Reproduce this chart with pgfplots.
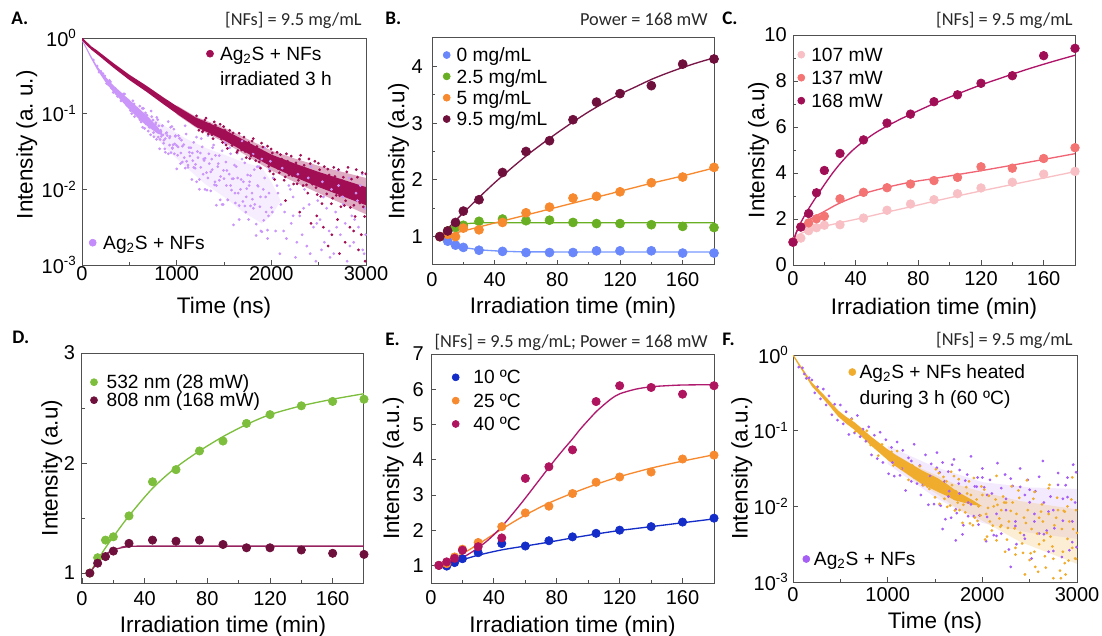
\documentclass[border=0pt]{standalone}
\usepackage{fontspec}
\setmainfont{Liberation Sans}
\newfontfamily\calfont{Carlito}
\usepackage{pgfplots}
\pgfplotsset{compat=1.18}

\definecolor{axgray}{RGB}{80,80,80}
\definecolor{maroonA}{RGB}{162,14,84}
\definecolor{lavA}{RGB}{202,150,250}
\definecolor{lavL}{RGB}{195,140,250}
\definecolor{blueB}{RGB}{105,135,250}
\definecolor{blueBl}{RGB}{120,150,255}
\definecolor{greenB}{RGB}{105,175,35}
\definecolor{orangeB}{RGB}{247,137,47}
\definecolor{maroonB}{RGB}{110,15,60}
\definecolor{maroonBl}{RGB}{120,22,72}
\definecolor{pinkC}{RGB}{248,192,196}
\definecolor{salmonC}{RGB}{244,115,115}
\definecolor{salmonCl}{RGB}{240,100,115}
\definecolor{magC}{RGB}{160,15,85}
\definecolor{magCl}{RGB}{175,20,105}
\definecolor{greenD}{RGB}{125,190,60}
\definecolor{maroonD}{RGB}{110,15,60}
\definecolor{maroonDl}{RGB}{150,35,95}
\definecolor{blueE}{RGB}{20,45,200}
\definecolor{magE}{RGB}{175,20,95}
\definecolor{magEl}{RGB}{175,25,110}
\definecolor{goldF}{RGB}{240,172,45}
\definecolor{purpF}{RGB}{165,95,245}
\definecolor{anncol}{RGB}{40,40,40}

\newcommand\tickfont{\fontsize{12}{14}\selectfont}
\newcommand\labfont{\fontsize{13.5}{16}\selectfont}
\newcommand\legfont{\fontsize{11.5}{13}\selectfont}
\newcommand\annfont{\calfont\fontsize{11}{13}\selectfont}
\newcommand\panfont{\calfont\bfseries\fontsize{11.5}{13}\selectfont}

\pgfplotsset{
  panel/.style={
    scale only axis,
    axis line style={draw=axgray, line width=0.6pt},
    tick style={draw=axgray, line width=0.5pt},
    tick align=inside, tick pos=left,
    major tick length=3pt, minor tick length=1.8pt,
    ticklabel style={font=\tickfont, text=black},
    label style={font=\labfont, text=black},
    legend cell align=left,
    legend style={draw=none, fill=none, inner sep=0pt, outer sep=0pt, font=\legfont,
      nodes={inner sep=0pt, text height=8.5pt, text depth=2.5pt, anchor=base west}},
    legend image code/.code={\draw[##1] plot coordinates {(0pt,4pt)};},
    legend image post style={mark size=2.1pt},
  },
  fitline/.style={forget plot, smooth, line width=0.8pt},
  dots/.style={only marks, mark=*, mark size=#1, mark options={draw=none}},
  tiny/.style={forget plot, only marks, mark=*, mark size=0.62pt, mark options={draw=none}},
  cloud/.style={forget plot, draw=none, fill=#1},
}

\begin{document}
\begin{tikzpicture}
\useasboundingbox (0,0) rectangle (661.2pt,381pt);

%%%%%%%%%%%%%%%%%%%% Panel A  (y values are log10 of the intensity)
\begin{axis}[panel, at={(49.2pt,222pt)}, anchor=south west, width=170.4pt, height=136.2pt,
  xmin=0, xmax=3000, ymin=-3, ymax=0,
  xtick={0,1000,2000,3000}, xticklabels={0,1000,2000,3000}, minor x tick num=1,
  ytick={-3,-2,-1,0}, yticklabels={10\textsuperscript{-3},10\textsuperscript{-2},10\textsuperscript{-1},10\textsuperscript{0}},
  xticklabel style={inner sep=1pt}, yticklabel style={inner xsep=3pt},
  xlabel={Time (ns)}, ylabel={Intensity (a.\ u.)},
  xlabel style={at={(axis description cs:0.5,-0.19)}, anchor=center},
  ylabel style={at={(axis description cs:-0.194,0.53)}, anchor=center},
  legend style={at={(0.4384,0.9639)}, anchor=north west, row sep=4pt,
    /tikz/every odd column/.append style={column sep=3.9pt}},
]
% lavender (Ag2S + NFs)
\addplot[cloud=lavA, fill opacity=0.16] coordinates {
(500,-0.818)(700,-1.014)(900,-1.183)(1100,-1.33)(1300,-1.45)(1500,-1.54)(1700,-1.64)(1900,-1.71)(2000,-1.9)(2100,-2.15)
(2000,-2.35)(1900,-2.45)(1700,-2.30)(1500,-2.10)(1300,-1.93)(1100,-1.71)(900,-1.477)(700,-1.206)(500,-0.942)};
\addplot[cloud=lavA] coordinates {
(0,-0.018)(40,-0.105)(85,-0.212)(155,-0.363)(243,-0.505)(331,-0.625)(420,-0.725)(507,-0.825)(600,-0.93)(700,-1.045)(800,-1.175)(860,-1.29)
(800,-1.265)(700,-1.175)(600,-1.07)(507,-0.955)(420,-0.835)(331,-0.715)(243,-0.575)(155,-0.407)(85,-0.248)(40,-0.135)(0,-0.042)};
\addplot[tiny, color=lavA] coordinates {
(120,-0.29)(160,-0.37)(180,-0.45)(200,-0.44)(220,-0.47)(240,-0.5)(260,-0.6)(280,-0.62)(300,-0.58)(330,-0.72)(310,-0.66)(290,-0.56)
(350,-0.665)(375,-0.77)(400,-0.74)(425,-0.80)(450,-0.74)(475,-0.89)(500,-0.88)(525,-1.00)(550,-0.87)(575,-0.99)(600,-0.96)(625,-1.11)(650,-0.93)(675,-1.13)(700,-1.07)(725,-1.28)(750,-1.085)(775,-1.21)(800,-1.08)(825,-1.34)(850,-1.16)(875,-1.465)(900,-1.29)(925,-1.415)(950,-1.17)(975,-1.53)(1000,-1.42)
(362,-0.735)(387,-0.72)(412,-0.83)(437,-0.74)(462,-0.83)(487,-0.82)(512,-0.96)(537,-0.83)(562,-0.99)(587,-0.97)(612,-1.08)(637,-0.93)(662,-1.195)(687,-1.07)(712,-1.18)(737,-1.04)(762,-1.18)(787,-1.34)(812,-1.16)(837,-1.30)(862,-1.39)(887,-1.26)(912,-1.53)(937,-1.18)(962,-1.41)(987,-1.29)
(530,-0.92)(580,-0.93)(630,-1.02)(680,-1.02)(730,-1.15)(780,-1.12)(830,-1.22)(880,-1.33)(930,-1.30)(980,-1.40)(555,-1.04)(655,-1.08)(755,-1.25)(855,-1.28)(955,-1.45)
(1020,-1.29)(1040,-1.66)(1060,-1.43)(1080,-1.58)(1100,-1.27)(1120,-1.71)(1140,-1.56)(1160,-1.87)(1180,-1.38)(1200,-1.67)(1220,-1.50)(1240,-1.87)(1260,-1.33)(1280,-1.80)(1300,-1.59)(1320,-2.01)(1340,-1.53)(1360,-1.77)(1380,-1.45)(1400,-1.94)(1420,-1.95)(1440,-1.66)(1460,-2.14)(1480,-1.49)(1500,-1.86)(1520,-1.64)(1540,-2.14)(1560,-1.45)(1580,-2.01)(1600,-1.86)(1620,-2.18)(1640,-1.52)(1660,-2.40)(1680,-1.87)(1700,-2.16)(1720,-1.65)(1740,-1.99)(1760,-2.40)(1780,-1.82)(1800,-2.13)(1820,-1.74)(1840,-2.46)(1860,-1.96)(1880,-2.23)(1900,-1.60)(1920,-2.41)(1940,-2.10)(1960,-2.65)(1980,-1.74)(2000,-2.24)
(1010,-1.55)(1050,-1.35)(1090,-1.72)(1130,-1.45)(1170,-1.62)(1210,-1.90)(1250,-1.52)(1290,-1.62)(1330,-1.85)(1370,-1.60)(1410,-1.55)(1450,-1.88)(1490,-2.2)(1530,-1.75)(1570,-1.95)(1610,-1.68)(1650,-2.05)(1690,-1.60)(1730,-2.3)(1770,-1.9)(1810,-2.25)(1850,-1.70)(1890,-2.55)(1930,-1.85)(1970,-2.35)
(610,-0.90)(640,-1.18)(670,-0.99)(700,-1.23)(730,-0.965)(760,-1.305)(790,-1.05)(820,-1.465)(850,-1.16)(880,-1.51)(910,-1.105)(940,-1.515)(970,-1.205)(1000,-1.73)(1030,-1.325)(1060,-1.64)(1090,-1.16)(1120,-1.68)(1150,-1.45)(1180,-1.71)(1210,-1.31)(1240,-2.0)(1270,-1.44)(1300,-2.0)(1330,-1.29)(1360,-2.02)(1390,-1.415)(1420,-2.21)(1450,-1.555)(1480,-2.2)(1510,-1.385)(1540,-2.14)(1570,-1.53)(1600,-2.47)(1630,-1.70)(1660,-2.215)(1690,-1.36)(1720,-2.22)(1750,-1.81)(1780,-2.22)(1810,-1.53)(1840,-2.61)(1870,-1.70)(1900,-2.56)(1930,-1.45)(1960,-2.54)(1990,-1.63)
(625,-1.01)(655,-1.07)(685,-1.02)(715,-1.15)(745,-1.17)(775,-1.14)(805,-1.31)(835,-1.24)(865,-1.35)(895,-1.25)(925,-1.32)(955,-1.46)(985,-1.30)(1015,-1.44)(1045,-1.52)(1075,-1.41)(1105,-1.63)(1135,-1.51)(1165,-1.52)(1195,-1.72)(1225,-1.58)(1255,-1.71)(1285,-1.60)(1315,-1.78)(1345,-1.66)(1375,-1.74)(1405,-1.90)(1435,-1.70)(1465,-1.83)(1495,-1.75)(1525,-1.95)(1555,-1.80)(1585,-1.86)(1615,-2.05)(1645,-1.85)(1675,-2.0)(1705,-1.90)(1735,-2.10)(1765,-1.95)(1795,-2.05)(1825,-2.2)(1855,-1.95)(1885,-2.1)(1915,-2.0)(1945,-2.3)(1975,-2.05)
(2020,-1.85)(2045,-2.55)(2070,-2.05)(2090,-2.85)(2115,-1.72)(2140,-2.3)(2160,-2.65)(2185,-1.95)(2210,-2.45)(2230,-2.1)(2255,-2.9)(2280,-1.8)(2300,-2.35)(2325,-2.6)(2350,-2.0)(2375,-2.75)(2400,-2.2)(2420,-1.7)(2445,-2.5)(2470,-2.95)(2490,-2.15)(2515,-2.4)(2540,-1.9)(2560,-2.7)(2585,-2.25)(2610,-2.55)(2635,-2.0)(2660,-2.85)(2680,-2.3)(2705,-1.75)(2730,-2.6)(2755,-2.1)(2780,-2.45)(2800,-2.95)(2825,-1.85)(2850,-2.35)(2870,-2.7)(2895,-2.05)(2920,-2.5)(2940,-1.95)(2965,-2.8)(2985,-2.25)(2995,-2.6)
(2010,-2.3)(2060,-1.95)(2130,-2.55)(2200,-2.0)(2270,-2.7)(2340,-2.25)(2410,-2.85)(2480,-2.45)(2550,-2.1)(2620,-2.9)(2690,-2.5)(2760,-2.2)(2830,-2.75)(2910,-2.15)(2980,-2.85)(2100,-2.2)(2230,-2.35)(2390,-1.85)(2530,-2.8)(2710,-1.95)(2880,-2.4)(2960,-1.8)};
% maroon (irradiated 3 h)
\addplot[cloud=maroonA, fill opacity=0.35] coordinates {
(1000,-0.89)(1200,-1.038)(1500,-1.184)(1750,-1.336)(2000,-1.488)(2250,-1.594)(2500,-1.69)(2750,-1.77)(3000,-1.85)
(3000,-2.33)(2750,-2.19)(2500,-2.05)(2250,-1.906)(2000,-1.752)(1750,-1.564)(1500,-1.376)(1200,-1.182)(1000,-1.01)};
\addplot[cloud=maroonA] coordinates {
(0,0.01)(50,-0.053)(100,-0.113)(150,-0.155)(330,-0.33)(500,-0.485)(680,-0.63)(860,-0.785)(1000,-0.90)(1200,-1.05)(1500,-1.21)(1750,-1.375)(2000,-1.54)(2250,-1.66)(2500,-1.77)(2750,-1.87)(3000,-1.97)
(3000,-2.21)(2750,-2.09)(2500,-1.97)(2250,-1.84)(2000,-1.70)(1750,-1.525)(1500,-1.35)(1200,-1.17)(1000,-1.0)(860,-0.875)(680,-0.71)(500,-0.555)(330,-0.39)(150,-0.205)(100,-0.157)(50,-0.097)(0,-0.03)};
\addplot[tiny, color=maroonA] coordinates {
(1210,-1.03)(1235,-1.22)(1260,-1.10)(1285,-1.22)(1310,-1.06)(1335,-1.27)(1360,-1.17)(1385,-1.33)(1410,-1.15)(1435,-1.29)(1460,-1.14)(1485,-1.38)(1510,-1.22)(1535,-1.46)(1560,-1.22)(1585,-1.42)(1610,-1.31)(1635,-1.51)(1660,-1.26)(1685,-1.48)(1710,-1.31)(1735,-1.58)(1760,-1.38)(1785,-1.56)(1810,-1.33)(1835,-1.62)(1860,-1.48)(1885,-1.72)(1910,-1.44)(1935,-1.63)(1960,-1.43)(1985,-1.76)
(2010,-1.52)(2035,-1.87)(2060,-1.51)(2085,-1.78)(2110,-1.60)(2135,-1.88)(2160,-1.53)(2185,-1.81)(2210,-1.56)(2235,-1.93)(2260,-1.65)(2285,-1.88)(2310,-1.55)(2335,-1.95)(2360,-1.74)(2385,-2.05)(2410,-1.66)(2435,-1.93)(2460,-1.63)(2485,-2.07)(2510,-1.74)(2535,-2.19)(2560,-1.70)(2585,-2.06)(2610,-1.81)(2635,-2.19)(2660,-1.71)(2685,-2.08)(2710,-1.74)(2735,-2.23)(2760,-1.84)(2785,-2.15)(2810,-1.71)(2835,-2.24)(2860,-1.96)(2885,-2.36)(2910,-1.84)(2935,-2.18)(2960,-1.78)(2985,-2.36)
(2150,-2.15)(2300,-2.3)(2420,-2.45)(2550,-2.5)(2640,-2.6)(2700,-2.4)(2780,-2.7)(2870,-2.55)(2920,-2.8)(2990,-2.95)(2600,-2.75)(2480,-2.35)(2830,-2.5)(2950,-2.6)(2720,-2.85)
(1222,-1.166)(1247,-1.11)(1272,-1.24)(1297,-1.085)(1322,-1.19)(1347,-1.14)(1372,-1.28)(1397,-1.11)(1422,-1.27)(1447,-1.24)(1472,-1.335)(1497,-1.17)(1522,-1.415)(1547,-1.285)(1572,-1.38)(1597,-1.255)(1622,-1.365)(1647,-1.487)(1672,-1.346)(1697,-1.443)(1722,-1.50)(1747,-1.407)(1772,-1.595)(1797,-1.362)(1822,-1.51)(1847,-1.434)(1872,-1.637)(1897,-1.389)(1922,-1.612)(1947,-1.564)(1972,-1.697)(1997,-1.467)
(2022,-1.797)(2047,-1.611)(2072,-1.725)(2097,-1.541)(2122,-1.68)(2147,-1.836)(2172,-1.63)(2197,-1.753)(2222,-1.82)(2247,-1.682)(2272,-1.927)(2297,-1.60)(2322,-1.795)(2347,-1.682)(2372,-1.941)(2397,-1.598)(2422,-1.884)(2447,-1.808)(2472,-1.977)(2497,-1.654)(2522,-2.092)(2547,-1.829)(2572,-1.979)(2597,-1.733)(2622,-1.91)(2647,-2.117)(2672,-1.83)(2697,-1.996)(2722,-2.084)(2747,-1.886)(2772,-2.214)(2797,-1.769)(2822,-2.022)(2847,-1.866)(2872,-2.211)(2897,-1.74)(2922,-2.121)(2947,-2.016)(2972,-2.232)(2997,-1.795)};
\addlegendimage{only marks, mark=*, mark size=2.1pt, mark options={draw=none}, color=maroonA}
\addlegendentry{Ag\textsubscript{2}S + NFs}
\addlegendimage{empty legend}
\addlegendentry{irradiated 3 h}
\end{axis}
\begin{axis}[panel, hide axis, at={(49.2pt,222pt)}, anchor=south west, width=170.4pt, height=136.2pt,
  xmin=0, xmax=1, ymin=0, ymax=1,
  legend style={at={(0.0254,0.1313)}, anchor=north west,
    /tikz/every odd column/.append style={column sep=4.2pt}}]
\addlegendimage{only marks, mark=*, mark size=2.1pt, mark options={draw=none}, color=lavL}
\addlegendentry{Ag\textsubscript{2}S + NFs}
\end{axis}

%%%%%%%%%%%%%%%%%%%% Panel B
\begin{axis}[panel, at={(259.2pt,222pt)}, anchor=south west, width=169.2pt, height=136.2pt,
  xmin=0, xmax=180, ymin=0.5, ymax=4.5,
  xtick={0,40,80,120,160}, xticklabels={0,40,80,120,160}, minor x tick num=1,
  ytick={1,2,3,4}, yticklabels={1,2,3,4}, minor y tick num=1,
  xticklabel style={inner sep=4.6pt}, yticklabel style={inner xsep=5.4pt},
  xlabel={Irradiation time (min)}, ylabel={Intensity (a.u)},
  xlabel style={at={(axis description cs:0.5,-0.19)}, anchor=center},
  ylabel style={at={(axis description cs:-0.119,0.5)}, anchor=center},
  legend style={at={(0.0397,0.958)}, anchor=north west, row sep=1.8pt,
    /tikz/every odd column/.append style={column sep=3.9pt}},
]
\addplot[fitline, color=blueBl] coordinates {(5,1.0)(10,0.91)(15,0.85)(20,0.81)(30,0.77)(40,0.75)(50,0.738)(60,0.732)(90,0.73)(120,0.73)(180,0.73)};
\addplot[fitline, color=greenB] coordinates {(5,1.0)(10,1.12)(15,1.19)(20,1.22)(25,1.235)(30,1.24)(40,1.245)(180,1.245)};
\addplot[fitline, color=orangeB] coordinates {(5,1.0)(20,1.1)(40,1.24)(60,1.38)(80,1.52)(100,1.66)(120,1.8)(140,1.94)(160,2.07)(180,2.21)};
\addplot[fitline, color=maroonBl] coordinates {(5,1.0)(10,1.14)(15,1.28)(20,1.42)(30,1.69)(40,1.95)(50,2.19)(60,2.42)(70,2.63)(80,2.83)(90,3.02)(100,3.2)(110,3.36)(120,3.51)(130,3.64)(140,3.77)(150,3.88)(160,3.98)(170,4.07)(180,4.15)};
\addplot[dots=2.7pt, color=blueB] coordinates {(5,1.0)(10,0.92)(15,0.85)(20,0.81)(30,0.76)(45,0.74)(60,0.72)(75,0.72)(90,0.72)(105,0.75)(120,0.75)(140,0.75)(160,0.71)(180,0.71)};
\addlegendentry{0 mg/mL}
\addplot[dots=2.7pt, color=greenB] coordinates {(5,1.0)(10,1.1)(15,1.16)(20,1.2)(30,1.27)(45,1.31)(60,1.28)(75,1.29)(90,1.25)(105,1.23)(120,1.23)(140,1.21)(160,1.18)(180,1.16)};
\addlegendentry{2.5 mg/mL}
\addplot[dots=2.7pt, color=orangeB] coordinates {(5,1.0)(10,1.04)(15,1.0)(20,1.15)(30,1.12)(45,1.25)(60,1.42)(75,1.52)(90,1.68)(105,1.71)(120,1.79)(140,1.95)(160,2.05)(180,2.22)};
\addlegendentry{5 mg/mL}
\addplot[dots=2.7pt, color=maroonB] coordinates {(5,1.0)(10,1.1)(15,1.25)(20,1.45)(30,1.65)(45,2.13)(60,2.5)(75,2.69)(90,3.06)(105,3.37)(120,3.52)(140,3.66)(160,4.04)(180,4.13)};
\addlegendentry{9.5 mg/mL}
\end{axis}

%%%%%%%%%%%%%%%%%%%% Panel C
\begin{axis}[panel, at={(475.8pt,222pt)}, anchor=south west, width=169.2pt, height=138pt,
  xmin=0, xmax=180, ymin=0, ymax=10,
  xtick={0,40,80,120,160}, xticklabels={0,40,80,120,160}, minor x tick num=1,
  ytick={0,2,4,6,8,10}, yticklabels={0,2,4,6,8,10}, minor y tick num=1,
  xticklabel style={inner sep=3.6pt}, yticklabel style={inner xsep=3.6pt},
  xlabel={Irradiation time (min)}, ylabel={Intensity (a.u)},
  xlabel style={at={(axis description cs:0.5,-0.188)}, anchor=center},
  ylabel style={at={(axis description cs:-0.122,0.5)}, anchor=center},
  legend style={at={(0.017,0.947)}, anchor=north west, row sep=2.8pt,
    /tikz/every odd column/.append style={column sep=3.9pt}},
]
\addplot[fitline, color=pinkC] coordinates {(0,1.1)(3,1.3)(5,1.37)(10,1.5)(20,1.68)(30,1.84)(45,2.06)(60,2.3)(75,2.53)(90,2.77)(105,3.0)(120,3.22)(140,3.5)(160,3.78)(180,4.06)};
\addplot[fitline, color=salmonCl] coordinates {(0,1.0)(2,1.4)(5,1.68)(10,1.95)(15,2.15)(20,2.33)(30,2.7)(45,3.1)(60,3.38)(75,3.6)(90,3.76)(105,3.93)(120,4.1)(140,4.34)(160,4.59)(180,4.84)};
\addplot[fitline, color=magCl] coordinates {(0,0.95)(2,1.4)(5,1.85)(10,2.45)(15,2.98)(20,3.49)(25,3.97)(30,4.4)(37,4.92)(45,5.38)(52,5.72)(60,6.04)(70,6.39)(80,6.71)(90,7.02)(100,7.3)(110,7.57)(120,7.83)(135,8.18)(150,8.52)(165,8.83)(180,9.12)};
\addplot[dots=2.6pt, color=pinkC] coordinates {(0,1.0)(5,1.17)(10,1.49)(15,1.62)(20,1.73)(30,1.75)(45,2.04)(60,2.38)(75,2.65)(90,2.84)(105,3.1)(120,3.35)(140,3.6)(160,3.95)(180,4.07)};
\addlegendentry{107 mW}
\addplot[dots=2.6pt, color=salmonC] coordinates {(0,1.0)(5,1.66)(10,1.83)(15,2.01)(20,2.12)(30,2.88)(45,3.16)(60,3.36)(75,3.52)(90,3.67)(105,3.81)(120,4.27)(140,4.21)(160,4.63)(180,5.1)};
\addlegendentry{137 mW}
\addplot[dots=2.6pt, color=magC] coordinates {(0,0.99)(5,1.65)(10,2.24)(15,3.14)(20,4.11)(30,4.85)(45,5.44)(60,6.17)(75,6.56)(90,7.1)(105,7.4)(120,7.9)(140,8.23)(160,9.1)(180,9.42)};
\addlegendentry{168 mW}
\end{axis}

%%%%%%%%%%%%%%%%%%%% Panel D
\begin{axis}[panel, at={(49.2pt,31.2pt)}, anchor=south west, width=169.2pt, height=138pt,
  xmin=0, xmax=180, ymin=0.91, ymax=3,
  xtick={0,40,80,120,160}, xticklabels={0,40,80,120,160}, minor x tick num=1,
  ytick={1,2,3}, yticklabels={1,2,3}, minor y tick num=1,
  xticklabel style={inner sep=4.8pt}, yticklabel style={inner xsep=4pt},
  xlabel={Irradiation time (min)}, ylabel={Intensity (a.u)},
  xlabel style={at={(axis description cs:0.5,-0.188)}, anchor=center},
  ylabel style={at={(axis description cs:-0.107,0.5)}, anchor=center},
  legend style={at={(0.0301,0.905)}, anchor=north west, row sep=0pt,
    nodes={text height=8.4pt, text depth=2.4pt},
    /tikz/every odd column/.append style={column sep=5.5pt}},
]
\addplot[fitline, color=greenD] coordinates {(5,1.0)(10,1.12)(15,1.23)(20,1.33)(30,1.52)(45,1.77)(60,1.96)(75,2.11)(90,2.24)(105,2.35)(120,2.44)(140,2.52)(160,2.58)(180,2.63)};
\addplot[fitline, color=maroonDl] coordinates {(5,1.0)(10,1.1)(15,1.17)(20,1.21)(25,1.23)(30,1.24)(40,1.245)(180,1.245)};
\addplot[dots=2.5pt, color=greenD] coordinates {(5,1.0)(10,1.14)(15,1.3)(20,1.33)(30,1.52)(45,1.83)(60,1.94)(75,2.11)(90,2.2)(105,2.36)(120,2.44)(140,2.52)(160,2.56)(180,2.58)};
\addlegendentry{532 nm (28 mW)}
\addplot[dots=2.5pt, color=maroonD] coordinates {(5,1.0)(10,1.09)(15,1.15)(20,1.2)(30,1.27)(45,1.3)(60,1.29)(75,1.3)(90,1.26)(105,1.23)(120,1.23)(140,1.21)(160,1.18)(180,1.17)};
\addlegendentry{808 nm (168 mW)}
\end{axis}

%%%%%%%%%%%%%%%%%%%% Panel E
\begin{axis}[panel, at={(258.6pt,31.2pt)}, anchor=south west, width=169.8pt, height=137.4pt,
  xmin=0, xmax=180, ymin=0.5, ymax=7,
  xtick={0,40,80,120,160}, xticklabels={0,40,80,120,160}, minor x tick num=1,
  ytick={1,2,3,4,5,6,7}, yticklabels={1,2,3,4,5,6,7},
  xticklabel style={inner sep=4.2pt}, yticklabel style={inner xsep=4.2pt},
  xlabel={Irradiation time (min)}, ylabel={Intensity (a.u.)},
  xlabel style={at={(axis description cs:0.5,-0.189)}, anchor=center},
  ylabel style={at={(axis description cs:-0.133,0.5)}, anchor=center},
  legend style={at={(0.0749,0.931)}, anchor=north west, row sep=3pt,
    /tikz/every odd column/.append style={column sep=8.5pt}},
]
\addplot[fitline, color=blueE] coordinates {(5,1.0)(10,1.05)(20,1.16)(30,1.29)(45,1.44)(60,1.55)(75,1.66)(90,1.78)(105,1.89)(120,1.99)(140,2.1)(160,2.21)(180,2.32)};
\addplot[fitline, color=orangeB] coordinates {(5,1.0)(10,1.1)(20,1.33)(30,1.6)(45,2.03)(60,2.43)(75,2.77)(90,3.05)(105,3.3)(120,3.52)(140,3.76)(160,3.96)(180,4.14)};
\addplot[fitline, color=magEl] coordinates {(5,1.0)(10,1.05)(15,1.12)(20,1.22)(25,1.35)(30,1.5)(35,1.67)(40,1.87)(45,2.1)(50,2.36)(55,2.63)(60,2.91)(65,3.2)(70,3.49)(75,3.78)(80,4.06)(85,4.33)(90,4.59)(95,4.87)(100,5.12)(105,5.36)(110,5.56)(115,5.74)(120,5.87)(130,6.0)(140,6.07)(150,6.1)(160,6.12)(180,6.13)};
\addplot[dots=2.5pt, color=blueE] coordinates {(5,1.0)(10,0.98)(15,1.08)(20,1.19)(30,1.36)(45,1.62)(60,1.55)(75,1.7)(90,1.81)(105,1.91)(120,2.0)(140,2.1)(160,2.23)(180,2.34)};
\addlegendentry{10 ºC}
\addplot[dots=2.5pt, color=orangeB] coordinates {(5,1.0)(10,1.05)(15,1.24)(20,1.46)(30,1.65)(45,2.1)(60,2.49)(75,2.68)(90,3.04)(105,3.36)(120,3.51)(140,3.65)(160,4.02)(180,4.13)};
\addlegendentry{25 ºC}
\addplot[dots=2.5pt, color=magE] coordinates {(5,1.0)(10,1.1)(15,1.2)(20,1.43)(30,1.53)(45,1.78)(60,3.47)(75,3.8)(90,4.28)(105,5.65)(120,6.1)(140,6.05)(160,5.86)(180,6.1)};
\addlegendentry{40 ºC}
\end{axis}

%%%%%%%%%%%%%%%%%%%% Panel F  (y values are log10 of the intensity)
\begin{axis}[panel, at={(475.8pt,31.8pt)}, anchor=south west, width=170.4pt, height=136.2pt,
  xmin=0, xmax=3000, ymin=-3, ymax=0,
  xtick={0,1000,2000,3000}, xticklabels={0,1000,2000,3000}, minor x tick num=1,
  ytick={-3,-2,-1,0}, yticklabels={10\textsuperscript{-3},10\textsuperscript{-2},10\textsuperscript{-1},10\textsuperscript{0}},
  xticklabel style={inner sep=3pt}, yticklabel style={inner xsep=2.4pt},
  xlabel={Time (ns)}, ylabel={Intensity (a.u.)},
  xlabel style={at={(axis description cs:0.5,-0.18)}, anchor=center},
  ylabel style={at={(axis description cs:-0.18,0.5)}, anchor=center},
  legend style={at={(0.1965,0.958)}, anchor=north west, row sep=4.6pt,
    /tikz/every odd column/.append style={column sep=2.3pt}},
]
\addplot[cloud=purpF, fill opacity=0.13] coordinates {
(1000,-1.20)(1500,-1.48)(2000,-1.68)(2500,-1.75)(3000,-1.77)
(3000,-2.43)(2500,-2.35)(2000,-2.22)(1500,-1.88)(1000,-1.44)};
\addplot[tiny, color=purpF] coordinates {
(60,-0.16)(100,-0.17)(140,-0.31)(170,-0.30)(120,-0.25)
(200,-0.33)(230,-0.50)(260,-0.42)(290,-0.58)(320,-0.45)(350,-0.66)(380,-0.54)(410,-0.79)(440,-0.65)(470,-0.86)(500,-0.66)(530,-0.91)(560,-0.75)(590,-1.05)(620,-0.84)(650,-1.03)(680,-0.80)(710,-1.08)(740,-0.98)(770,-1.14)(800,-0.95)(830,-1.32)(860,-1.06)(890,-1.37)(920,-1.02)(950,-1.42)(980,-1.12)(1010,-1.57)(1040,-1.22)(1070,-1.60)(1100,-1.15)(1130,-1.59)(1160,-1.26)(1190,-1.79)(1220,-1.36)(1250,-1.67)(1280,-1.18)(1310,-1.70)(1340,-1.46)(1370,-1.72)(1400,-1.32)(1430,-1.98)(1460,-1.44)(1490,-1.97)(1520,-1.29)(1550,-1.98)(1580,-1.42)(1610,-2.17)(1640,-1.54)(1670,-2.15)(1700,-1.38)(1730,-2.09)(1760,-1.52)(1790,-2.37)(1820,-1.66)(1850,-2.13)(1880,-1.34)(1910,-2.13)(1940,-1.74)(1970,-2.12)
(2000,-1.50)(2040,-2.46)(2080,-1.65)(2120,-2.38)(2160,-1.43)(2200,-2.36)(2240,-1.58)(2280,-2.57)(2320,-1.73)(2360,-2.50)(2400,-1.50)(2440,-2.38)(2480,-1.65)(2520,-2.69)(2560,-1.80)(2600,-2.36)(2640,-1.40)(2680,-2.32)(2720,-1.87)(2760,-2.29)(2800,-1.56)(2840,-2.67)(2880,-1.72)(2920,-2.58)(2960,-1.45)(2995,-2.54)
(1050,-1.42)(1150,-1.50)(1250,-1.40)(1350,-1.85)(1450,-1.60)(1550,-1.55)(1650,-1.80)(1750,-1.70)(1850,-1.95)(1950,-1.62)(2050,-1.85)(2150,-2.1)(2250,-1.9)(2350,-2.2)(2450,-1.85)(2550,-2.1)(2650,-1.95)(2750,-2.05)(2850,-1.9)(2950,-2.2)(2020,-1.75)(2500,-1.78)(2900,-1.62)(2700,-2.6)(2300,-2.8)(1720,-2.45)(1580,-2.3)(2980,-1.95)
(1520,-1.49)(1560,-1.99)(1600,-1.67)(1640,-1.87)(1680,-1.45)(1720,-2.04)(1760,-1.83)(1800,-2.25)(1840,-1.58)(1880,-1.975)(1920,-1.736)(1960,-2.241)(2000,-1.62)(2050,-2.14)(2100,-1.83)(2150,-2.39)(2200,-1.76)(2250,-2.05)(2300,-1.634)(2350,-2.26)(2400,-1.742)(2450,-2.428)(2500,-1.947)(2550,-2.20)(2600,-1.61)(2650,-2.368)(2700,-2.07)(2750,-2.59)(2800,-1.716)(2850,-2.19)(2900,-1.878)(2950,-2.473)(2990,-1.55)};
\addplot[cloud=goldF, fill opacity=0.2] coordinates {
(1000,-1.25)(1300,-1.47)(1500,-1.58)(1700,-1.70)(2000,-1.81)(2400,-1.93)(3000,-2.04)
(3000,-2.76)(2400,-2.47)(2000,-2.19)(1700,-2.0)(1500,-1.82)(1300,-1.67)(1000,-1.39)};
\addplot[cloud=goldF] coordinates {
(0,0.015)(60,-0.102)(123,-0.22)(200,-0.365)(299,-0.49)(400,-0.625)(475,-0.73)(560,-0.815)(651,-0.89)(740,-0.985)(827,-1.08)(915,-1.165)(1003,-1.25)(1090,-1.325)(1179,-1.39)(1267,-1.455)(1355,-1.52)(1443,-1.575)(1531,-1.63)(1620,-1.70)(1707,-1.78)(1800,-1.85)(1900,-1.92)(2000,-2.0)
(1900,-1.98)(1800,-1.95)(1707,-1.92)(1620,-1.86)(1531,-1.81)(1443,-1.755)(1355,-1.70)(1267,-1.625)(1179,-1.55)(1090,-1.475)(1003,-1.39)(915,-1.295)(827,-1.20)(740,-1.095)(651,-0.99)(560,-0.905)(475,-0.81)(400,-0.695)(299,-0.55)(200,-0.415)(123,-0.26)(60,-0.138)(0,-0.015)};
\addplot[tiny, color=goldF] coordinates {
(620,-0.85)(660,-1.01)(700,-0.98)(740,-1.07)(780,-1.0)(820,-1.19)(860,-1.18)(900,-1.33)(940,-1.18)(980,-1.32)(1020,-1.29)(1060,-1.46)(1100,-1.27)(1140,-1.50)(1180,-1.43)(1220,-1.65)(1260,-1.46)(1300,-1.59)(1340,-1.47)(1380,-1.72)(1420,-1.74)(1460,-1.62)(1500,-1.88)(1540,-1.56)(1580,-1.78)(1620,-1.67)(1660,-1.99)(1700,-1.60)(1740,-1.95)(1780,-1.88)(1820,-2.08)(1860,-1.67)(1900,-2.25)(1940,-1.91)(1980,-2.12)
(2020,-1.78)(2060,-2.02)(2100,-2.32)(2140,-1.91)(2180,-2.16)(2220,-1.87)(2260,-2.44)(2300,-2.06)(2340,-2.29)(2380,-1.79)(2420,-2.49)(2460,-2.22)(2500,-2.71)(2540,-1.9)(2580,-2.36)(2620,-2.07)(2660,-2.66)(2700,-1.76)(2740,-2.53)(2780,-2.15)(2820,-2.85)(2860,-2.06)(2900,-2.43)(2940,-1.91)(2980,-2.69)
(640,-0.95)(720,-0.99)(800,-1.14)(880,-1.17)(960,-1.31)(1040,-1.28)(1120,-1.47)(1200,-1.44)(1280,-1.62)(1360,-1.55)(1440,-1.77)(1520,-1.66)(1600,-1.90)(1680,-1.72)(1760,-2.05)(1840,-1.83)(1920,-2.15)(2000,-1.85)(2080,-2.2)(2160,-1.98)(2240,-2.6)(2320,-1.95)(2400,-2.35)(2480,-2.05)(2560,-2.8)(2640,-2.2)(2720,-2.4)(2800,-2.05)(2880,-2.9)(2960,-2.3)(2990,-2.05)(2200,-2.25)(2600,-2.5)(2850,-2.6)(2450,-2.9)(2750,-2.95)
(1720,-1.8)(1800,-1.98)(1880,-1.85)(1960,-2.0)(2040,-2.1)(2120,-2.0)(2200,-2.05)(2280,-2.2)(2360,-2.1)(2440,-2.15)(2520,-2.3)(2600,-2.15)(2680,-2.35)(2760,-2.25)(2840,-2.3)(2920,-2.2)(3000,-2.35)(2050,-2.4)(2350,-2.55)(2650,-2.45)(2950,-2.55)(2150,-2.45)(2550,-2.6)(2870,-2.75)(2250,-1.95)(2700,-2.1)(2900,-2.0)
(1510,-1.51)(1550,-1.966)(1590,-1.611)(1630,-2.007)(1670,-1.542)(1710,-2.055)(1750,-1.641)(1790,-2.219)(1830,-1.747)(1870,-2.225)(1910,-1.625)(1950,-2.192)(1990,-1.739)(2030,-2.439)(2070,-1.86)(2110,-2.255)(2150,-1.597)(2190,-2.27)(2230,-1.949)(2270,-2.285)(2310,-1.735)(2350,-2.638)(2390,-1.887)(2430,-2.615)(2470,-1.656)(2510,-2.619)(2550,-1.809)(2590,-2.865)(2630,-1.974)(2670,-2.81)(2710,-1.717)(2750,-2.693)(2790,-1.885)(2830,-2.95)(2870,-2.07)(2910,-2.718)(2950,-1.618)(2990,-2.695)};
\addlegendimage{only marks, mark=*, mark size=2.1pt, mark options={draw=none}, color=goldF}
\addlegendentry{Ag\textsubscript{2}S + NFs heated}
\addlegendimage{empty legend}
\addlegendentry{during 3 h (60 ºC)}
\end{axis}
\begin{axis}[panel, hide axis, at={(475.8pt,31.8pt)}, anchor=south west, width=170.4pt, height=136.2pt,
  xmin=0, xmax=1, ymin=0, ymax=1,
  legend style={at={(0.0345,0.1344)}, anchor=north west,
    /tikz/every odd column/.append style={column sep=2.5pt}}]
\addlegendimage{only marks, mark=*, mark size=2.1pt, mark options={draw=none}, color=purpF}
\addlegendentry{Ag\textsubscript{2}S + NFs}
\end{axis}

%%%%%%%%%%%%%%%%%%%% Panel letters and conditions
\node[anchor=base west, inner sep=0pt, font=\panfont] at (6.6pt,366pt) {A.};
\node[anchor=base east, inner sep=0pt, font=\annfont, text=anncol] at (217.2pt,365.4pt) {[NFs] = 9.5 mg/mL};
\node[anchor=base west, inner sep=0pt, font=\panfont] at (231pt,366pt) {B.};
\node[anchor=base east, inner sep=0pt, font=\annfont, text=anncol] at (424.8pt,365.4pt) {Power = 168 mW};
\node[anchor=base west, inner sep=0pt, font=\panfont] at (433.2pt,366pt) {C.};
\node[anchor=base east, inner sep=0pt, font=\annfont, text=anncol] at (643.8pt,365.4pt) {[NFs] = 9.5 mg/mL};
\node[anchor=base west, inner sep=0pt, font=\panfont] at (7.2pt,175.2pt) {D.};
\node[anchor=base west, inner sep=0pt, font=\panfont] at (231pt,174pt) {E.};
\node[anchor=base east, inner sep=0pt, font=\annfont, text=anncol] at (424.8pt,172.8pt) {[NFs] = 9.5 mg/mL; Power = 168 mW};
\node[anchor=base west, inner sep=0pt, font=\panfont] at (433.2pt,174pt) {F.};
\node[anchor=base east, inner sep=0pt, font=\annfont, text=anncol] at (643.8pt,174pt) {[NFs] = 9.5 mg/mL};
\end{tikzpicture}
\end{document}
